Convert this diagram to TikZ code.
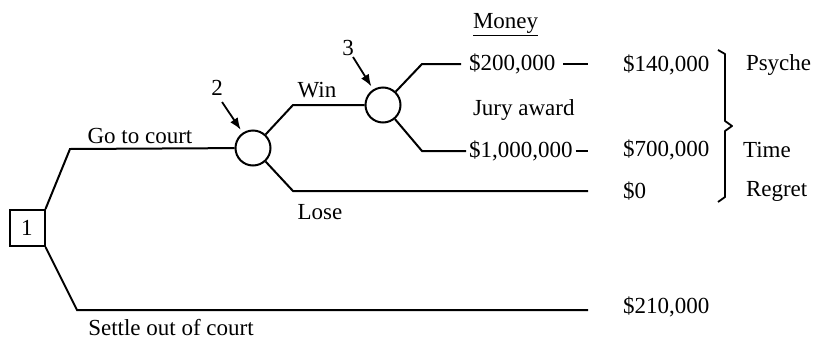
\documentclass[tikz,border=0pt]{standalone}
\usepackage{fontspec}
\setmainfont{Liberation Serif}
\usetikzlibrary{arrows.meta}
\begin{document}
\begin{tikzpicture}[x=0.5pt,y=-0.5pt, line width=1pt,
  decision/.style={draw, rectangle, minimum width=17.5pt, minimum height=18pt, inner sep=0pt, font=\fontsize{11.5}{13}\selectfont},
  chance/.style={draw, circle, minimum size=17.5pt, inner sep=0pt},
  lbl/.style={font=\fontsize{11.5}{13}\selectfont, inner sep=0pt},
  ptr/.style={-{Latex[length=6pt,width=4.5pt]}, line width=0.9pt}]
\useasboundingbox (0,0) rectangle (814,338);
% nodes
\node[decision] (d1) at (27,228) {1};
\node[chance] (c2) at (253,148) {};
\node[chance] (c3) at (383,105) {};
% bend points
\coordinate (g1) at (70,149);
\coordinate (s1) at (77,310);
\coordinate (s2) at (588,310);
\coordinate (w1) at (293,105);
\coordinate (l1) at (293,191);
\coordinate (l2) at (588,191);
\coordinate (j1) at (422,64);
\coordinate (j2) at (422,151);
\coordinate (m1) at (588,64);
\coordinate (m2) at (588,151);
% branches
\draw (d1.north east) -- (g1) -- (c2);
\draw (d1.south east) -- (s1) -- (s2);
\draw (c2) -- (w1) -- (c3);
\draw (c2) -- (l1) -- (l2);
\node[lbl, anchor=west, inner xsep=3.5pt] (v200) at (461,64) {\$200,000};
\node[lbl, anchor=west, inner xsep=1pt] (v1m) at (466,151) {\$1,000,000};
\draw (c3) -- (j1) -- (v200.west);
\draw (c3) -- (j2) -- (v1m.west);
\draw (v200.east) -- (m1);
\draw (v1m.east) -- (m2);
% branch labels
\node[lbl] (win) at (317,90) {Win};
\node[lbl] (lose) at (320,212) {Lose};
\node[lbl] (go) at (140,136) {Go to court};
\node[lbl] (settle) at (171,328) {Settle out of court};
\node[lbl, anchor=west] (jury) at (472,110) {Jury award};
\node[lbl, anchor=west] (money) at (472,25) {\underline{Money}};
% pointers
\node[lbl] (n2) at (217,88) {2};
\node[lbl] (n3) at (348,48) {3};
\coordinate (a2) at (222,102);
\coordinate (a3) at (353,57);
\draw[ptr, shorten >=1.7pt] (a2) -- (c2);
\draw[ptr, shorten >=1.7pt] (a3) -- (c3);
% outcomes
\node[lbl, anchor=west] (o1) at (622,65) {\$140,000};
\node[lbl, anchor=west] (o2) at (622,150) {\$700,000};
\node[lbl, anchor=west] (o3) at (622,191) {\$0};
\node[lbl, anchor=west] (o4) at (622,307) {\$210,000};
\node[lbl, anchor=west] (psy) at (745,65) {Psyche};
\node[lbl, anchor=west] (tim) at (742,150) {Time};
\node[lbl, anchor=west] (reg) at (745,191) {Regret};
% bracket
\draw[line width=0.9pt, line join=round] (718,50) -- (725,54) -- (725,121) -- (732,126) -- (725,131) -- (725,197) -- (718,202);
\end{tikzpicture}
\end{document}
